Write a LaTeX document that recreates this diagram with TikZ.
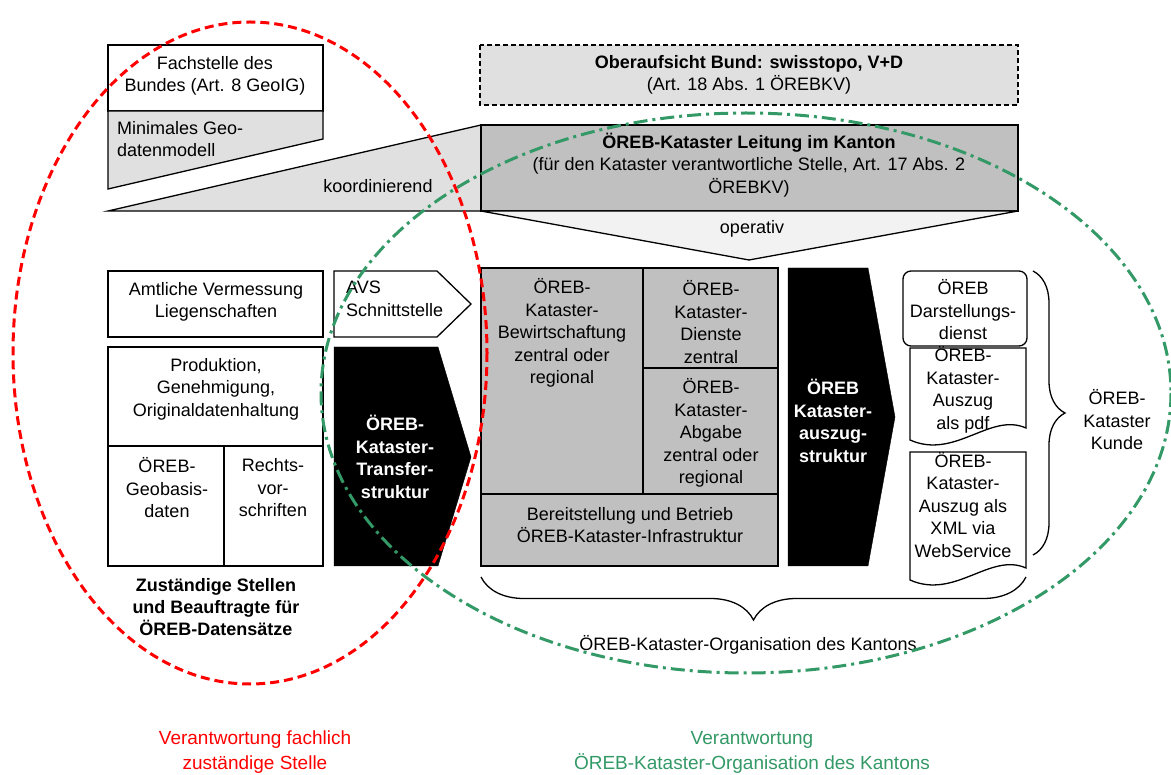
\documentclass[tikz,border=0pt]{standalone}
\usepackage{fontspec}
\setmainfont{Liberation Sans}
\usetikzlibrary{decorations.pathreplacing}
\definecolor{hellgrau}{RGB}{224,224,224}
\definecolor{mittelgrau}{RGB}{192,192,192}
\definecolor{fastweiss}{RGB}{242,242,242}
\definecolor{gruen}{RGB}{51,153,102}
\tikzset{
  txt/.style={align=center, inner sep=0pt, font=\fontsize{18}{22.5}\selectfont},
  kasten/.style={draw=black, line width=1.3pt},
  klammer/.style={draw=black, line width=1.3pt, decorate}
}

\begin{document}
\begin{tikzpicture}[x=1pt,y=-1pt]
\useasboundingbox (0,0) rectangle (1171,775);

% Bund
\draw [kasten, fill=white] (108,45) rectangle (323,111);
\draw [kasten, fill=hellgrau] (108,111)--(323,111)--(323,139)--(108,189)--cycle;
\draw [kasten, fill=hellgrau] (108,211)--(481,125)--(481,211)--cycle;
\draw [line width=1.8pt, dash pattern=on 5pt off 3pt, fill=hellgrau] (480,45) rectangle (1018,105);
\node [txt] (fachstelle) at (215,76) {Fachstelle des\\Bundes (Art. 8 GeoIG)};
\node [txt, align=left, anchor=west] (geomodell) at (117,139) {Minimales Geo-\\datenmodell};
\node [txt] (koord) at (378,186) {koordinierend};
\node [txt] (aufsicht) at (749,75) {\textbf{Oberaufsicht Bund: swisstopo, V+D}\\(Art. 18 Abs. 1 ÖREBKV)};

% Kanton
\draw [kasten, fill=mittelgrau] (481,125) rectangle (1018,211);
\draw [kasten, fill=fastweiss] (481,211)--(1018,211)--(749,260)--cycle;
\node [txt] (leitung) at (749,165) {\textbf{ÖREB-Kataster Leitung im Kanton}\\(für den Kataster verantwortliche Stelle, Art. 17 Abs. 2\\ÖREBKV)};
\node [txt] (operativ) at (752,229) {operativ};

% zustaendige Stellen
\draw [kasten, fill=white] (108,271) rectangle (323,337);
\draw [kasten, fill=white] (334,271)--(437,271)--(471,304)--(437,337)--(334,337)--cycle;
\draw [kasten, fill=white] (108,347) rectangle (323,566);
\draw [kasten] (108,446)--(323,446);
\draw [kasten] (224,446)--(224,566);
\draw [fill=black] (334,347)--(438,347)--(471,457)--(438,566)--(334,566)--cycle;
\node [txt] (amtlich) at (216,302) {Amtliche Vermessung\\Liegenschaften};
\node [txt, align=left, anchor=west] (avs) at (346,299) {AVS\\Schnittstelle};
\node [txt] (produktion) at (216,389) {Produktion,\\Genehmigung,\\Originaldatenhaltung};
\node [txt] (geobasis) at (167,488) {ÖREB-\\Geobasis-\\daten};
\node [txt] (rechts) at (273,488) {Rechts-\\vor-\\schriften};
\node [txt, text=white, font=\fontsize{18}{22.5}\selectfont\bfseries] (transfer) at (395,457) {ÖREB-\\Kataster-\\Transfer-\\struktur};
\node [txt, font=\fontsize{18}{22}\selectfont\bfseries] (zustaendig) at (216,607) {Zuständige Stellen\\und Beauftragte für\\ÖREB-Datensätze};

% Organisation
\draw [kasten, fill=mittelgrau] (481,268) rectangle (778,566);
\draw [kasten] (481,494)--(778,494);
\draw [kasten] (643,268)--(643,494);
\draw [kasten] (643,368)--(778,368);
\draw [fill=black] (788,268)--(868,268)--(895,417)--(868,566)--(788,566)--cycle;
\node [txt] (bewirt) at (562,333) {ÖREB-\\Kataster-\\Bewirtschaftung\\zentral oder\\regional};
\node [txt] (dienste) at (711,322) {ÖREB-\\Kataster-\\Dienste\\zentral};
\node [txt] (abgabe) at (711,433) {ÖREB-\\Kataster-\\Abgabe\\zentral oder\\regional};
\node [txt] (betrieb) at (630,525) {Bereitstellung und Betrieb\\ÖREB-Kataster-Infrastruktur};
\node [txt, text=white, font=\fontsize{18}{22.5}\selectfont\bfseries] (auszug) at (833,421) {ÖREB\\Kataster-\\auszug-\\struktur};

% Kunde
\draw [kasten, rounded corners=8pt, fill=white] (903,271) rectangle (1027,346);
\draw [kasten, fill=white] (910,348)--(1026,348)--(1026,428) .. controls (990,412) and (955,460) .. (910,440)--cycle;
\draw [kasten, fill=white] (910,452)--(1026,452)--(1026,568) .. controls (990,552) and (955,600) .. (910,580)--cycle;
\node [txt] (darst) at (963,310) {ÖREB\\Darstellungs-\\dienst};
\node [txt] (pdf) at (963,390) {ÖREB-\\Kataster-\\Auszug\\als pdf};
\node [txt] (xml) at (963,505) {ÖREB-\\Kataster-\\Auszug als\\XML via\\WebService};
\coordinate (kundeoben) at (1033,271);
\coordinate (kundeunten) at (1033,555);
\draw [klammer, decoration={brace, amplitude=32pt}] (kundeoben)--(kundeunten);
\node [txt] (kunde) at (1117,420) {ÖREB-\\Kataster\\Kunde};
\coordinate (orglinks) at (481,577);
\coordinate (orgrechts) at (1026,577);
\draw [klammer, decoration={brace, mirror, amplitude=43pt}] (orglinks)--(orgrechts);
\node [txt] (organisation) at (748,645) {ÖREB-Kataster-Organisation des Kantons};

% Verantwortung
\draw [red, line width=3pt, dash pattern=on 9pt off 5pt] (250,353) ellipse [x radius=237, y radius=331];
\draw [gruen, line width=3pt, dash pattern=on 14pt off 5pt on 3pt off 5pt] (746,393) ellipse [x radius=425, y radius=280];
\node [txt, text=red, font=\fontsize{19}{25}\selectfont] (fachlich) at (255,752) {Verantwortung fachlich\\zuständige Stelle};
\node [txt, text=gruen, font=\fontsize{19}{25}\selectfont] (kantonal) at (752,752) {Verantwortung\\ÖREB-Kataster-Organisation des Kantons};

\end{tikzpicture}
\end{document}
